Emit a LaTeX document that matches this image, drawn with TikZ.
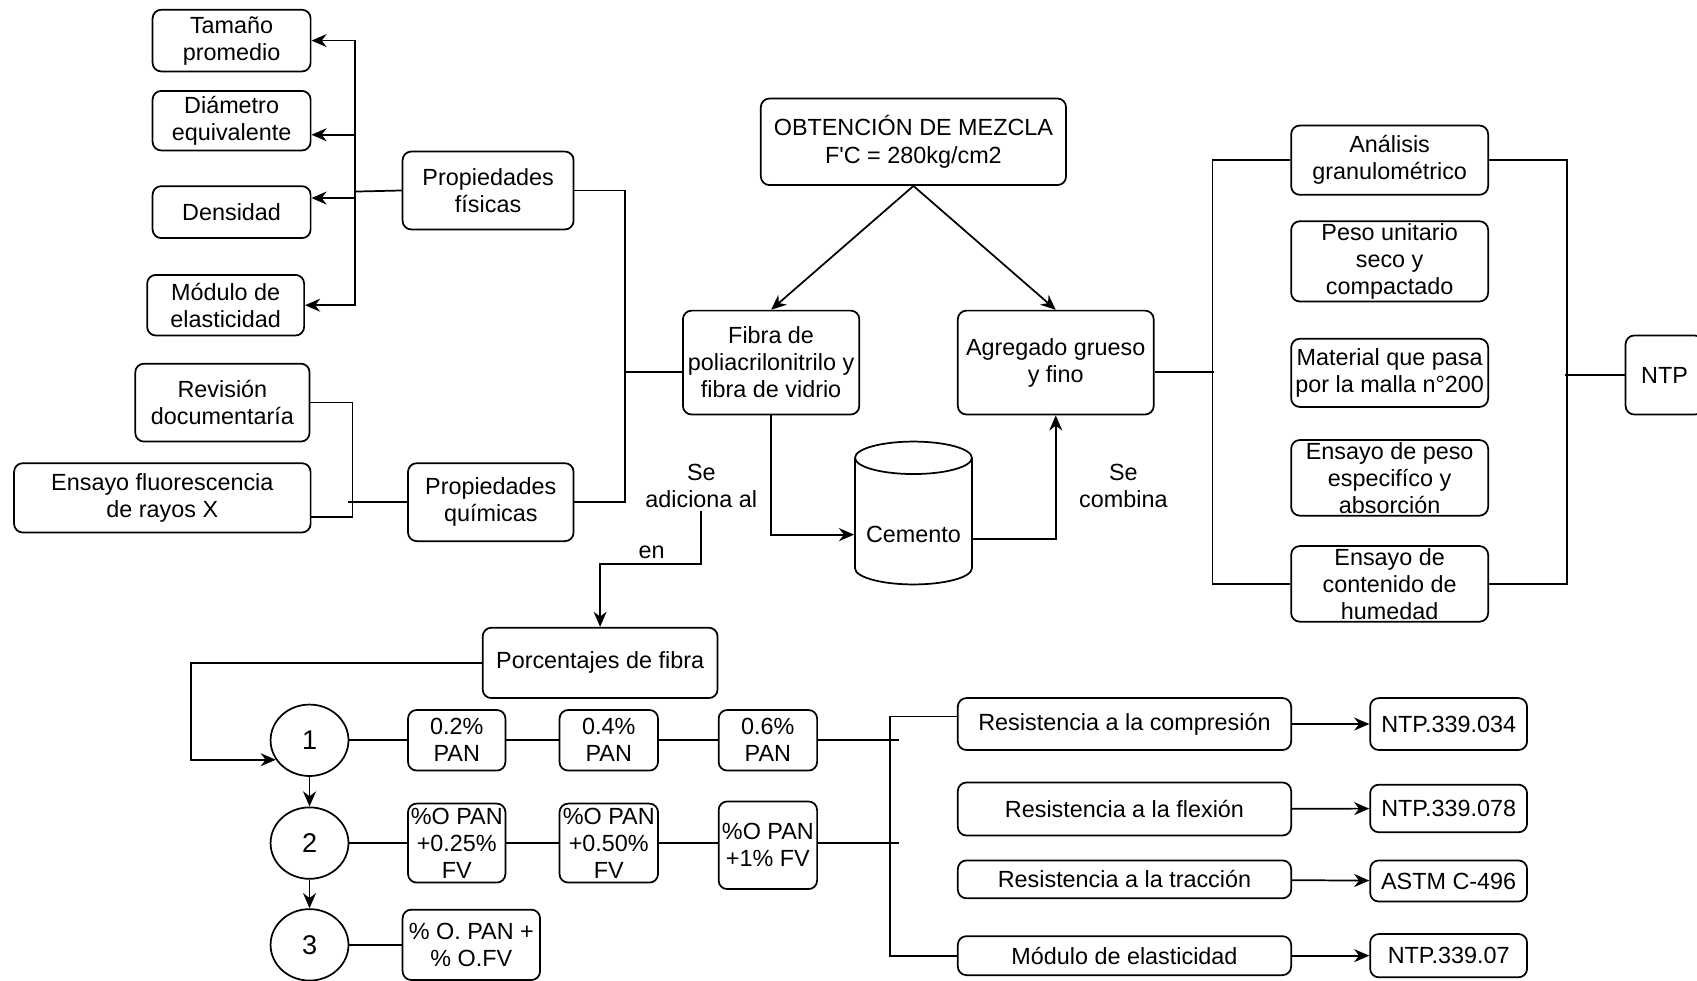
\documentclass[tikz,border=0pt]{standalone}
\usepackage{fontspec}
\setmainfont{Liberation Sans}
\usetikzlibrary{arrows.meta,positioning,calc,shapes.geometric}

\tikzset{
  box/.style={draw, rounded corners=4pt, align=center, inner sep=1pt},
  lbl/.style={align=center, inner sep=1pt},
  circ/.style={draw, ellipse, inner sep=0pt, minimum width=36pt, minimum height=33pt,
    font=\fontsize{12.5}{14}\selectfont},
}

\begin{document}
\begin{tikzpicture}[x=0.5pt,y=-0.5pt,>={Stealth[length=7pt,width=6pt]},line width=0.8pt,
    font=\fontsize{10.8}{12.5}\selectfont]
    \useasboundingbox (0,0) rectangle (1568,906);

    % Propiedades fisicas
    \node[box,minimum width=73pt,minimum height=28.5pt] (tam) at (214,37.5) {Tamaño\\promedio};
    \node[box,minimum width=73pt,minimum height=27.5pt] (diam) at (214,111.5) {Diámetro\\equivalente};
    \node[box,minimum width=73pt,minimum height=24pt] (dens) at (214,196) {Densidad};
    \node[box,minimum width=72.5pt,minimum height=28pt] (modl) at (208.5,282) {Módulo de\\elasticidad};
    \node[box,minimum width=79pt,minimum height=36pt] (pfis) at (451,176) {Propiedades\\físicas};

    \coordinate (ftrunk) at (328,177);
    \draw (pfis.west) -- (ftrunk);
    \draw[->] (ftrunk) |- (tam.east);
    \draw[->] (ftrunk) |- ($(diam.east)+(0,13)$);
    \draw[->] (ftrunk) |- ($(dens.east)+(0,-13)$);
    \draw[->] (ftrunk) |- (modl.east);

    % Propiedades quimicas
    \node[box,minimum width=80.5pt,minimum height=36pt] (rev) at (205.5,372) {Revisión\\documentaría};
    \node[box,minimum width=137pt,minimum height=32pt] (efl) at (150,460) {Ensayo fluorescencia\\de rayos X};
    \node[box,minimum width=76.5pt,minimum height=36pt] (pqui) at (453.5,464) {Propiedades\\químicas};

    \draw (rev.east) -- ++(39,0) |- ($(efl.east)+(0,18)$);
    \draw (pqui.west) -- ++(-55,0);
    \draw (pfis.east) -- ++(47,0) |- (pqui.east);

    % Mezcla
    \node[box,minimum width=141pt,minimum height=40pt] (obt) at (844,131) {OBTENCIÓN DE MEZCLA\\F{\textquotesingle}C = 280kg/cm2};
    \node[box,minimum width=81.5pt,minimum height=48pt] (fib) at (712.5,335) {Fibra de\\poliacrilonitrilo y\\fibra de vidrio};
    \node[box,minimum width=90.5pt,minimum height=48pt] (agr) at (975.5,335) {Agregado grueso\\y fino};

    % Cemento (cilindro)
    \node[inner sep=0pt,minimum width=54pt,minimum height=66pt,
      label={[yshift=-10pt]center:Cemento}] (cem) at (844,474) {};
    \draw (790,423) -- (790,525) arc[start angle=180,end angle=0,x radius=54,y radius=15] -- (898,423);
    \draw (844,423) ellipse [x radius=54, y radius=15];

    \draw ($(fib.west)+(0,9)$) -- ++(-54,0);
    \draw[->] (obt.south) -- (fib.north);
    \draw[->] (obt.south) -- (agr.north);
    \draw[->] (fib.south) |- ($(cem.west)+(0,20)$);
    \draw[->] ($(cem.east)+(0,24)$) -| (agr.south);

    \node[lbl] (seadic) at (648,449) {Se\\adiciona al};
    \node[lbl] (en) at (602,510) {en};
    \node[lbl] (secomb) at (1038,449) {Se\\combina};

    % Ensayos del agregado
    \node[box,minimum width=91pt,minimum height=32pt] (ana) at (1284,148) {Análisis\\granulométrico};
    \node[box,minimum width=91pt,minimum height=36.5pt] (peso) at (1284,241.5) {Peso unitario\\seco y\\compactado};
    \node[box,minimum width=91pt,minimum height=31.5pt] (mat) at (1284,344.5) {Material que pasa\\por la malla n°200};
    \node[box,minimum width=91pt,minimum height=32.5pt] (espe) at (1284,441.5) {Ensayo de peso\\especifíco y\\absorción};
    \node[box,minimum width=91pt,minimum height=32.5pt] (hum) at (1284,539.5) {Ensayo de\\contenido de\\humedad};
    \node[box,minimum width=36pt,minimum height=36.5pt] (ntp) at (1538,346.5) {NTP};

    \draw ($(agr.east)+(0,9)$) -- ++(55,0);
    \draw (ana.west) -- ++(-72,0) |- (hum.west);
    \draw (ana.east) -- ++(72,0) |- (hum.east);
    \draw (ntp.west) -- ++(-55,0);

    % Porcentajes de fibra
    \node[box,minimum width=108.5pt,minimum height=32.5pt] (porc) at (554.5,612.5) {Porcentajes de fibra};
    \draw[->] (seadic.south) -- ++(0,49) -| (porc.north);

    \node[circ] (c1) at (286,684) {1};
    \node[circ] (c2) at (286,779) {2};
    \node[circ] (c3) at (286,873) {3};
    \draw[->] (porc.west) -- ++(-269,0) |- (c1.210);
    \draw[->] (c1) -- (c2);
    \draw[->] (c2) -- (c3);

    \node[box,minimum width=45pt,minimum height=28pt] (p02) at (422,684) {0.2\%\\PAN};
    \node[box,minimum width=45.5pt,minimum height=28pt] (p04) at (562.5,684) {0.4\%\\PAN};
    \node[box,minimum width=45.5pt,minimum height=28pt] (p06) at (709.5,684) {0.6\%\\PAN};
    \draw (c1) -- (p02) -- (p04) -- (p06);
    \draw (p06.east) -- ++(75,0);

    \node[box,minimum width=45pt,minimum height=36.5pt] (f025) at (422,779) {\%O PAN\\+0.25\%\\FV};
    \node[box,minimum width=45.5pt,minimum height=36.5pt] (f050) at (562.5,779) {\%O PAN\\+0.50\%\\FV};
    \node[box,minimum width=45.5pt,minimum height=40.5pt] (f1) at (709.5,781) {\%O PAN\\+1\% FV};
    \draw (c2) -- (f025) -- (f050);
    \draw (f050.east) -- (f050.east -| f1.west);
    \draw (f050.east -| f1.east) -- ++(75,0);

    \node[box,minimum width=63.5pt,minimum height=32.5pt] (f3) at (435.5,873) {\% O. PAN +\\\% O.FV};
    \draw (c3) -- (f3);

    % Ensayos del concreto
    \node[box,minimum width=154pt,minimum height=24pt] (rcomp) at (1039,669) {Resistencia a la compresión};
    \node[box,minimum width=154pt,minimum height=24.5pt] (rflex) at (1039,747.5) {Resistencia a la flexión};
    \node[box,minimum width=154pt,minimum height=17.5pt] (rtrac) at (1039,812.5) {Resistencia a la tracción};
    \node[box,minimum width=154pt,minimum height=18pt] (rmod) at (1039,883) {Módulo de elasticidad};

    \node[box,minimum width=72.5pt,minimum height=24pt] (n034) at (1338.5,669) {NTP.339.034};
    \node[box,minimum width=72.5pt,minimum height=22pt] (n078) at (1338.5,747) {NTP.339.078};
    \node[box,minimum width=72.5pt,minimum height=19pt] (astm) at (1338.5,814) {ASTM C-496};
    \node[box,minimum width=72.5pt,minimum height=20pt] (n07) at (1338.5,883) {NTP.339.07};

    \draw ($(rcomp.west)+(0,-7)$) -- ++(-62,0) |- (rmod.west);
    \draw[->] (rcomp) -- (n034);
    \draw[->] (rflex) -- (n078);
    \draw[->] (rtrac) -- (astm);
    \draw[->] (rmod) -- (n07);
\end{tikzpicture}
\end{document}
